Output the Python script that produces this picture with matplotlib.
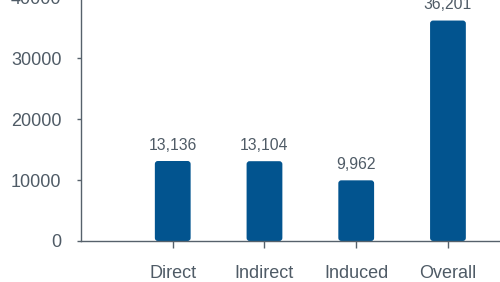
import matplotlib
matplotlib.use("Agg")
import matplotlib.pyplot as plt
from matplotlib.patches import FancyBboxPatch

categories = ["Direct", "Indirect", "Induced", "Overall"]
values = [13136, 13104, 9962, 36201]
value_labels = ["13,136", "13,104", "9,962", "36,201"]
yticks = [0, 10000, 20000, 30000, 40000]

bar_color = "#02548F"
text_color = "#4F5B66"
axis_color = "#56616B"

plt.rcParams['font.family'] = ['Liberation Sans', 'DejaVu Sans']

fig = plt.figure(figsize=(5, 2.82), dpi=100)
ax = fig.add_axes([0.162, 0.1454, 0.844, 0.8638])
ax.set_xlim(-1, 3.6)
ax.set_ylim(0, 40000)

x = list(range(len(categories)))
bars = ax.bar(x, values, width=0.39, color=bar_color)

fig.canvas.draw()
inv = ax.transData.inverted()
p0 = inv.transform((0, 0))
p1 = inv.transform((1, 1))
dx_px = p1[0] - p0[0]
dy_px = p1[1] - p0[1]
r_px = 3.0
for b in bars:
    bx, by = b.get_x(), b.get_y()
    bw, bh = b.get_width(), b.get_height()
    b.set_visible(False)
    patch = FancyBboxPatch((bx, by), bw, bh,
                           boxstyle=f"round,pad=0,rounding_size={r_px*dx_px}",
                           mutation_aspect=dy_px / dx_px,
                           facecolor=bar_color, edgecolor="none", zorder=2)
    ax.add_patch(patch)

for xi, v, lab in zip(x, values, value_labels):
    ax.annotate(lab, (xi, v), xytext=(0, 6), textcoords="offset points",
                ha="center", va="bottom", fontsize=11.3, color=text_color)

ax.set_xticks(x)
ax.set_xticklabels(categories)
ax.set_yticks(yticks)
ax.set_yticklabels([str(t) for t in yticks])

for s in ["top", "right"]:
    ax.spines[s].set_visible(False)
for s in ["left", "bottom"]:
    ax.spines[s].set_color(axis_color)
    ax.spines[s].set_linewidth(1.0)

ax.tick_params(axis="x", direction="out", length=5, width=1, color=axis_color,
               pad=12.5, labelsize=13, labelcolor=text_color)
ax.tick_params(axis="y", direction="out", length=3, width=1, color=axis_color,
               pad=11, labelsize=13, labelcolor=text_color)

fig.savefig("out.png", dpi=100)
